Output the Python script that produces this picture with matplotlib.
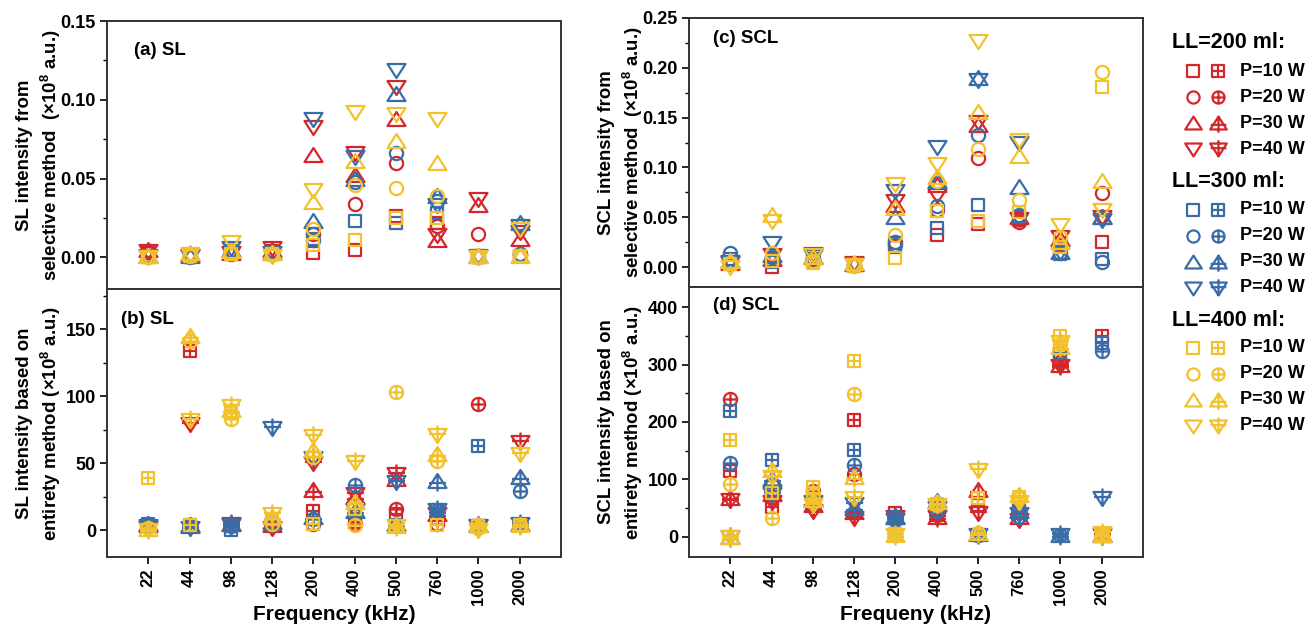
import matplotlib
matplotlib.use("Agg")
import matplotlib.pyplot as plt
from matplotlib.path import Path
from matplotlib.ticker import MultipleLocator, FormatStrFormatter

plt.rcParams["font.family"] = ["Liberation Sans", "DejaVu Sans"]
plt.rcParams["font.weight"] = "bold"
plt.rcParams["axes.labelweight"] = "bold"
plt.rcParams["mathtext.fontset"] = "custom"
plt.rcParams["mathtext.rm"] = "Liberation Sans:bold"
plt.rcParams["mathtext.default"] = "rm"

freqs = ["22", "44", "98", "128", "200", "400", "500", "760", "1000", "2000"]
powers = ["P=10 W", "P=20 W", "P=30 W", "P=40 W"]
volumes = ["LL=200 ml:", "LL=300 ml:", "LL=400 ml:"]
colors = ["#D5262B", "#3A6DA8", "#F2C12E"]
shapes = ["s", "o", "^", "v"]

# (a) SL, selective method; rows are P=10, 20, 30, 40 W
sl_sel_200 = [[0.003, 0.000, 0.002, 0.004, 0.003, 0.005, 0.026, 0.022, 0.001, 0.001],
              [0.004, 0.001, 0.002, 0.004, 0.015, 0.034, 0.060, 0.020, 0.015, 0.002],
              [0.005, 0.002, 0.003, 0.005, 0.065, 0.052, 0.088, 0.011, 0.033, 0.012],
              [0.004, 0.001, 0.003, 0.006, 0.083, 0.066, 0.108, 0.014, 0.037, 0.016]]
sl_sel_300 = [[0.001, 0.000, 0.004, 0.002, 0.012, 0.023, 0.022, 0.028, 0.000, 0.001],
              [0.001, 0.000, 0.004, 0.002, 0.011, 0.048, 0.066, 0.036, 0.000, 0.002],
              [0.001, 0.001, 0.005, 0.003, 0.023, 0.050, 0.104, 0.039, 0.001, 0.022],
              [0.001, 0.001, 0.006, 0.003, 0.088, 0.064, 0.119, 0.033, 0.001, 0.020]]
sl_sel_400 = [[0.000, 0.001, 0.002, 0.002, 0.008, 0.011, 0.025, 0.025, 0.000, 0.001],
              [0.000, 0.001, 0.003, 0.002, 0.018, 0.046, 0.044, 0.039, 0.000, 0.001],
              [0.001, 0.003, 0.004, 0.003, 0.035, 0.061, 0.074, 0.060, 0.001, 0.001],
              [0.000, 0.002, 0.010, 0.001, 0.043, 0.092, 0.091, 0.088, 0.000, 0.018]]

# (b) SL, entirety method
sl_ent_200 = [[4, 134, 3, 5, 14, 6, 12, 12, 3, 4],
              [3, 4, 4, 5, 5, 5, 16, 5, 94, 4],
              [4, 4, 5, 4, 30, 25, 38, 12, 4, 5],
              [2, 79, 5, 2, 50, 27, 42, 12, 3, 66]]
sl_ent_300 = [[5, 4, 0, 4, 5, 15, 4, 15, 63, 4],
              [4, 4, 3, 5, 8, 34, 4, 14, 3, 29],
              [5, 3, 5, 6, 10, 14, 5, 37, 4, 40],
              [3, 2, 4, 76, 54, 15, 36, 15, 3, 5]]
sl_ent_400 = [[39, 4, 88, 8, 5, 16, 3, 4, 3, 4],
              [2, 141, 83, 5, 55, 4, 103, 52, 2, 4],
              [1, 145, 90, 10, 60, 21, 3, 57, 4, 4],
              [0, 82, 93, 12, 70, 51, 3, 71, 0, 57]]

# (c) SCL, selective method
scl_sel_200 = [[0.004, 0.000, 0.006, 0.001, 0.020, 0.032, 0.043, 0.047, 0.022, 0.025],
               [0.005, 0.010, 0.008, 0.002, 0.025, 0.057, 0.109, 0.045, 0.025, 0.074],
               [0.004, 0.008, 0.010, 0.003, 0.062, 0.082, 0.143, 0.050, 0.028, 0.050],
               [0.005, 0.012, 0.013, 0.004, 0.066, 0.072, 0.146, 0.048, 0.030, 0.050]]
scl_sel_300 = [[0.008, 0.005, 0.008, 0.002, 0.024, 0.039, 0.062, 0.050, 0.013, 0.008],
               [0.014, 0.010, 0.009, 0.002, 0.022, 0.061, 0.133, 0.052, 0.014, 0.005],
               [0.006, 0.012, 0.010, 0.003, 0.050, 0.086, 0.190, 0.080, 0.015, 0.050],
               [0.004, 0.024, 0.011, 0.003, 0.076, 0.121, 0.188, 0.125, 0.015, 0.047]]
scl_sel_400 = [[0.003, 0.006, 0.004, 0.001, 0.009, 0.056, 0.046, 0.055, 0.020, 0.181],
               [0.004, 0.014, 0.006, 0.001, 0.032, 0.086, 0.119, 0.067, 0.030, 0.196],
               [0.006, 0.052, 0.010, 0.004, 0.059, 0.090, 0.156, 0.111, 0.025, 0.086],
               [0.000, 0.046, 0.012, 0.002, 0.083, 0.103, 0.227, 0.128, 0.042, 0.057]]

# (d) SCL, entirety method
scl_ent_200 = [[115, 52, 75, 203, 41, 38, 55, 50, 310, 349],
               [240, 70, 80, 110, 35, 40, 4, 45, 305, 3],
               [67, 75, 55, 44, 35, 35, 81, 35, 300, 4],
               [65, 60, 45, 33, 35, 35, 41, 30, 298, 3]]
scl_ent_300 = [[220, 133, 65, 152, 35, 55, 4, 45, 320, 338],
               [129, 90, 60, 125, 30, 45, 4, 35, 4, 324],
               [0, 100, 65, 50, 35, 62, 5, 45, 4, 3],
               [0, 75, 60, 58, 30, 50, 4, 40, 4, 67]]
scl_ent_400 = [[169, 76, 87, 306, 5, 58, 67, 70, 350, 5],
               [92, 33, 75, 249, 3, 55, 6, 67, 336, 4],
               [0, 116, 65, 104, 4, 60, 6, 73, 330, 3],
               [0, 104, 55, 67, 3, 55, 116, 60, 340, 6]]


def marker(kind, crossed):
    M, L, C = Path.MOVETO, Path.LINETO, Path.CLOSEPOLY
    if kind == "o":
        r = 6.6
        circ = Path.unit_circle()
        outline = Path(circ.vertices * r, circ.codes)
        cross = [((0, -r), (0, r)), ((-r, 0), (r, 0))]
    elif kind == "s":
        h = 6.0
        outline = Path([(-h, -h), (h, -h), (h, h), (-h, h), (-h, -h)], [M, L, L, L, C])
        cross = [((0, -h), (0, h)), ((-h, 0), (h, 0))]
    else:
        s = 1 if kind == "^" else -1
        outline = Path([(0, 7.5 * s), (-9, -6.5 * s), (9, -6.5 * s), (0, 7.5 * s)], [M, L, L, C])
        cross = [((0, 7.5 * s), (0, -10 * s)), ((-8.5, -1.5 * s), (8.5, -1.5 * s))]
    path = outline
    if crossed:
        path = Path.make_compound_path(outline, *[Path(seg, [M, L]) for seg in cross])
    ext = abs(path.vertices).max()
    return path, 2 * ext * 0.72


def draw(ax, groups, crossed):
    for color, group in zip(colors, groups):
        for kind, vals in zip(shapes, group):
            path, ms = marker(kind, crossed)
            ax.plot(range(len(freqs)), vals, ls="none", marker=path, ms=ms,
                    mfc="none", mec=color, mew=1.6)


def setup(ax, ylim, step, fmt, ylabel, tag, tag_x, tag_y, xlabel=None):
    ax.set_xlim(-1, 10)
    ax.set_ylim(*ylim)
    ax.yaxis.set_major_locator(MultipleLocator(step))
    ax.yaxis.set_minor_locator(MultipleLocator(step / 2))
    ax.yaxis.set_major_formatter(FormatStrFormatter(fmt))
    ax.tick_params(axis="y", which="major", direction="out", length=5, width=1.2,
                   labelsize=13, pad=3)
    ax.tick_params(axis="y", which="minor", direction="out", length=3, width=1.0)
    for sp in ax.spines.values():
        sp.set_color("#333333")
        sp.set_linewidth(1.4)
    ax.set_ylabel(ylabel, fontsize=13.4, linespacing=1.35)
    ax.yaxis.set_label_coords(-0.096, 0.5)
    ax.text(tag_x, tag_y, tag, transform=ax.transAxes, fontsize=13.5,
            fontweight="bold", va="center", ha="left")
    ax.set_xticks(range(len(freqs)))
    if xlabel is None:
        ax.tick_params(axis="x", bottom=False, labelbottom=False)
    else:
        ax.set_xticklabels(freqs, rotation=90, fontsize=12)
        ax.tick_params(axis="x", direction="out", length=5, width=1.2, pad=3)
        ax.set_xlabel(xlabel, fontsize=15, labelpad=0)


fig = plt.figure(figsize=(13.11, 6.29), dpi=100)
W, H = 1311.0, 629.0
ax_a = fig.add_axes([107 / W, 1 - 289 / H, 454 / W, 268 / H])
ax_b = fig.add_axes([107 / W, 1 - 557 / H, 454 / W, 268 / H])
ax_c = fig.add_axes([689 / W, 1 - 287 / H, 454 / W, 269 / H])
ax_d = fig.add_axes([689 / W, 1 - 557 / H, 454 / W, 270 / H])

unit = "(×10$^{8}$ a.u.)"
setup(ax_a, (-0.02, 0.15), 0.05, "%.2f", "SL intensity from\nselective method  " + unit,
      "(a) SL", 0.06, 0.89)
setup(ax_b, (-20, 180), 50, "%d", "SL intensity based on\nentirety method " + unit,
      "(b) SL", 0.03, 0.885, "Frequency (kHz)")
setup(ax_c, (-0.02, 0.25), 0.05, "%.2f", "SCL intensity from\nselective method  " + unit,
      "(c) SCL", 0.053, 0.925)
setup(ax_d, (-35, 435), 100, "%d", "SCL intensity based on\nentirety method " + unit,
      "(d) SCL", 0.053, 0.933, "Frequeny (kHz)")

draw(ax_a, [sl_sel_200, sl_sel_300, sl_sel_400], False)
draw(ax_b, [sl_ent_200, sl_ent_300, sl_ent_400], True)
draw(ax_c, [scl_sel_200, scl_sel_300, scl_sel_400], False)
draw(ax_d, [scl_ent_200, scl_ent_300, scl_ent_400], True)

# legend panel, laid out in pixel units
leg = fig.add_axes([1150 / W, 0, 161 / W, 1])
leg.set_xlim(1150, 1311)
leg.set_ylim(629, 0)
leg.axis("off")
for g, (vol, color) in enumerate(zip(volumes, colors)):
    y0 = 43 + g * 138.5
    leg.text(1172, y0, vol, fontsize=15.5, fontweight="bold", va="center", ha="left")
    for i, (kind, lab) in enumerate(zip(shapes, powers)):
        y = y0 + 28 + 26 * i
        for x, crossed in ((1193, False), (1218, True)):
            path, ms = marker(kind, crossed)
            leg.plot([x], [y], ls="none", marker=path, ms=ms * 0.92, mfc="none",
                     mec=color, mew=1.6, clip_on=False)
        leg.text(1240, y, lab, fontsize=13, fontweight="bold", va="center", ha="left")

fig.savefig("out.png", dpi=100)
